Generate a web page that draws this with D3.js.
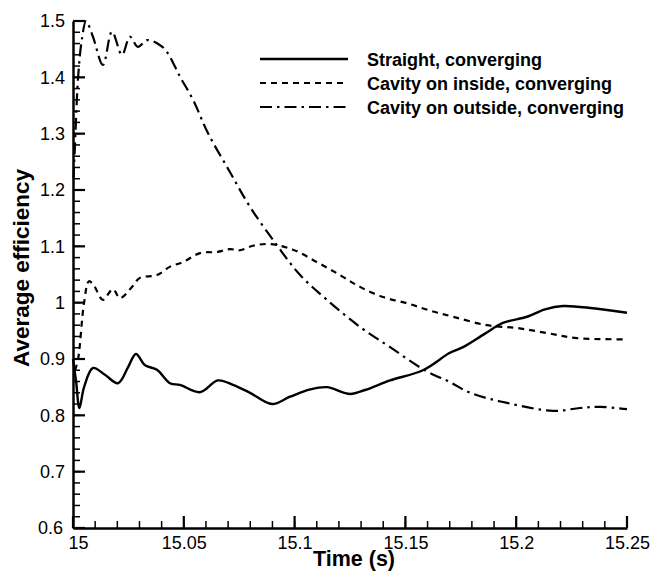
<!DOCTYPE html>
<html><head><meta charset="utf-8">
<script src="https://cdn.jsdelivr.net/npm/d3@7"></script>
<style>body{margin:0;background:#fff}svg{display:block}</style>
</head><body>
<svg id="chart" width="655" height="575"></svg>
<script>
const seriesNames = ["Straight, converging", "Cavity on inside, converging", "Cavity on outside, converging"];
const straightT = [15.000,15.0014,15.0029,15.005,15.009,15.0144,15.0203,15.0248,15.0284,15.0325,15.0379,15.0438,15.0483,15.0573,15.0654,15.0722,15.0799,15.0898,15.0979,15.107,15.1146,15.125,15.1318,15.1431,15.1579,15.1701,15.176,15.1859,15.194,15.2049,15.213,15.2211,15.2347,15.25];
const straightV = [0.90,0.86,0.813,0.85,0.884,0.872,0.857,0.885,0.909,0.889,0.881,0.857,0.854,0.841,0.862,0.854,0.840,0.820,0.833,0.846,0.850,0.838,0.845,0.862,0.880,0.911,0.921,0.945,0.964,0.975,0.988,0.994,0.990,0.982];
const insideT = [15.0009,15.0023,15.005,15.0072,15.0095,15.0135,15.018,15.0212,15.0266,15.0302,15.0379,15.0438,15.0496,15.0573,15.065,15.0708,15.0754,15.0812,15.0889,15.0993,15.1101,15.1205,15.1295,15.1399,15.1507,15.1611,15.1715,15.1868,15.2004,15.2139,15.2274,15.25];
const insideV = [0.88,0.90,1.00,1.038,1.030,1.005,1.024,1.008,1.028,1.044,1.049,1.064,1.072,1.088,1.090,1.095,1.093,1.101,1.104,1.094,1.072,1.049,1.028,1.010,0.999,0.986,0.975,0.960,0.955,0.946,0.937,0.935];
const outsideT = [15.0002,15.0009,15.0023,15.0041,15.0059,15.009,15.0135,15.0176,15.0221,15.0257,15.0293,15.0334,15.0393,15.0424,15.0483,15.0542,15.0609,15.0708,15.0799,15.092,15.1025,15.1146,15.1295,15.1431,15.1588,15.1701,15.1792,15.1959,15.2166,15.2288,15.2378,15.25];
const outsideV = [1.22,1.28,1.40,1.47,1.50,1.472,1.422,1.481,1.440,1.472,1.454,1.466,1.457,1.445,1.401,1.360,1.301,1.232,1.170,1.102,1.049,1.005,0.957,0.921,0.880,0.859,0.840,0.822,0.808,0.813,0.815,0.811];
const xTicks = [15, 15.05, 15.1, 15.15, 15.2, 15.25];
const xTickLabels = ["15", "15.05", "15.1", "15.15", "15.2", "15.25"];
const yTicks = [0.6, 0.7, 0.8, 0.9, 1.0, 1.1, 1.2, 1.3, 1.4, 1.5];
const yTickLabels = ["0.6", "0.7", "0.8", "0.9", "1", "1.1", "1.2", "1.3", "1.4", "1.5"];
const xTitle = "Time (s)";
const yTitle = "Average efficiency";

const svg = d3.select("#chart");
const m = {left: 73, top: 21, right: 28, bottom: 47};
const W = 655, H = 575;
const x = d3.scaleLinear().domain([15, 15.25]).range([m.left, W - m.right]);
const y = d3.scaleLinear().domain([0.6, 1.5]).range([H - m.bottom, m.top]);

const font = "'Liberation Sans', Arial, Helvetica, sans-serif";
const styles = [
  {dash: null, w: 2.4},
  {dash: "6,5", w: 2.2},
  {dash: "12,5,2.5,5", w: 2.2}
];
const series = [
  straightT.map((t, i) => [t, straightV[i]]),
  insideT.map((t, i) => [t, insideV[i]]),
  outsideT.map((t, i) => [t, outsideV[i]])
];

const line = d3.line().x(d => x(d[0])).y(d => y(d[1])).curve(d3.curveCatmullRom.alpha(0.5));
series.forEach((s, i) => {
  svg.append("path").datum(s).attr("d", line)
    .attr("fill", "none").attr("stroke", "#000")
    .attr("stroke-width", styles[i].w)
    .attr("stroke-dasharray", styles[i].dash)
    .attr("stroke-linejoin", "round");
});

// ticks (inward), drawn from the scales
const xMinor = d3.range(1, 25).map(i => 15 + i * 0.01);
const yMinor = d3.range(1, 45).map(i => 0.6 + i * 0.02);
const tg = svg.append("g").attr("stroke", "#000");
tg.selectAll(".xminor").data(xMinor).join("line")
  .attr("x1", d => x(d)).attr("x2", d => x(d))
  .attr("y1", H - m.bottom).attr("y2", H - m.bottom - 7).attr("stroke-width", 1.5);
tg.selectAll(".yminor").data(yMinor).join("line")
  .attr("y1", d => y(d)).attr("y2", d => y(d))
  .attr("x1", m.left).attr("x2", m.left + 7).attr("stroke-width", 1.5);
tg.selectAll(".xmajor").data(xTicks).join("line")
  .attr("x1", d => x(d)).attr("x2", d => x(d))
  .attr("y1", H - m.bottom).attr("y2", H - m.bottom - 12).attr("stroke-width", 2.2);
tg.selectAll(".ymajor").data(yTicks).join("line")
  .attr("y1", d => y(d)).attr("y2", d => y(d))
  .attr("x1", m.left).attr("x2", m.left + 12).attr("stroke-width", 2.2);

// axes (domain + labels)
const xAxis = svg.append("g").attr("transform", `translate(0,${H - m.bottom})`)
  .call(d3.axisBottom(x).tickValues(xTicks).tickSize(0).tickPadding(11)
    .tickFormat((d, i) => xTickLabels[i]));
xAxis.select(".domain").attr("stroke", "#000").attr("stroke-width", 2.5);
xAxis.selectAll("text").attr("font-family", font).attr("font-size", 18).attr("fill", "#000")
  .attr("dy", "0.55em")
  .attr("dx", (d, i) => i === 0 ? 5 : 0);

const yAxis = svg.append("g").attr("transform", `translate(${m.left},0)`)
  .call(d3.axisLeft(y).tickValues(yTicks).tickSize(0).tickPadding(8)
    .tickFormat((d, i) => yTickLabels[i]));
yAxis.select(".domain").attr("stroke", "#000").attr("stroke-width", 2.5);
yAxis.selectAll("text").attr("font-family", font).attr("font-size", 18).attr("fill", "#000")
  .attr("dx", (d, i) => i === 0 ? -2 : 0);

// axis titles
svg.append("text").attr("x", (m.left + W - m.right) / 2 + 4).attr("y", 566)
  .attr("text-anchor", "middle").attr("font-family", font).attr("font-weight", "bold")
  .attr("font-size", 21.5).text(xTitle);
svg.append("text").attr("transform", `translate(29,${268}) rotate(-90)`)
  .attr("text-anchor", "middle").attr("font-family", font).attr("font-weight", "bold")
  .attr("font-size", 22.5).text(yTitle);

// legend
const lg = svg.append("g");
seriesNames.forEach((name, i) => {
  const yy = 59 + i * 24;
  lg.append("line").attr("x1", 260).attr("x2", 348).attr("y1", yy).attr("y2", yy)
    .attr("stroke", "#000").attr("stroke-width", styles[i].w)
    .attr("stroke-dasharray", styles[i].dash);
  lg.append("text").attr("x", 367).attr("y", yy + 7)
    .attr("font-family", font).attr("font-weight", "bold").attr("font-size", 18)
    .text(name);
});
</script>
</body></html>
